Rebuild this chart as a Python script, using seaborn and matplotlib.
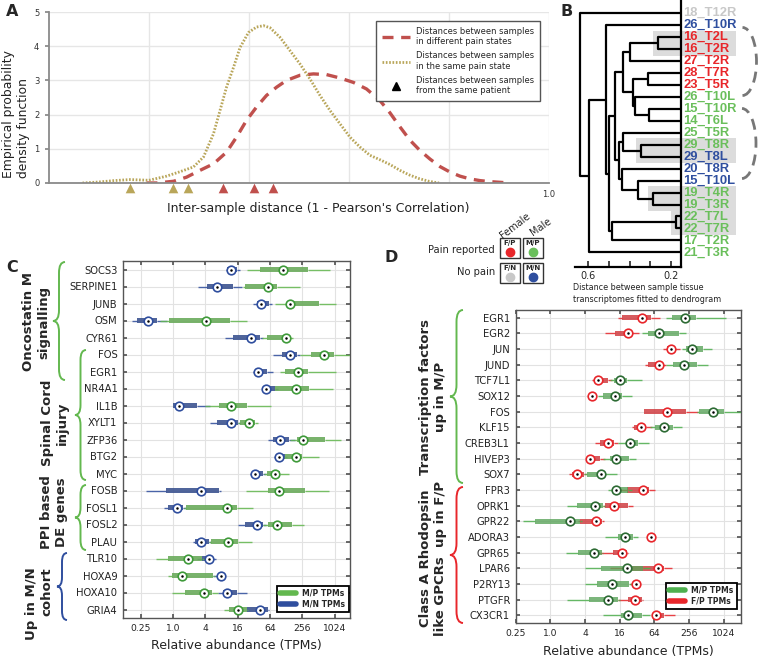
import numpy as np
import pandas as pd
import matplotlib
matplotlib.use("Agg")
import matplotlib.pyplot as plt
from matplotlib.patches import Rectangle, Arc, PathPatch
from matplotlib.path import Path
from matplotlib.lines import Line2D
from matplotlib.transforms import blended_transform_factory
import seaborn as sns

# ======================= DATA =======================
# Panel A: empirical density curves
same_x = [0.067, 0.10, 0.13, 0.162, 0.20, 0.235, 0.262, 0.289, 0.309, 0.329, 0.342, 0.355,
          0.369, 0.382, 0.399, 0.415, 0.429, 0.442, 0.462, 0.482, 0.502, 0.522, 0.542, 0.562,
          0.582, 0.602, 0.622, 0.642, 0.662, 0.682, 0.702, 0.72, 0.74, 0.76, 0.78]
same_y = [0.0, 0.03, 0.07, 0.1, 0.08, 0.2, 0.33, 0.47, 0.76, 1.44, 2.12, 2.8,
          3.38, 3.96, 4.4, 4.56, 4.6, 4.54, 4.26, 3.87, 3.48, 3.04, 2.56, 2.12,
          1.73, 1.34, 1.05, 0.81, 0.68, 0.54, 0.37, 0.24, 0.13, 0.05, 0.0]
diff_x = [0.195, 0.215, 0.249, 0.275, 0.302, 0.329, 0.355, 0.375, 0.395, 0.415, 0.435,
          0.455, 0.475, 0.502, 0.529, 0.555, 0.582, 0.609, 0.635, 0.662, 0.682, 0.702,
          0.722, 0.742, 0.762, 0.782, 0.802, 0.822, 0.842, 0.862, 0.882, 0.902, 0.922]
diff_y = [0.0, 0.0, 0.05, 0.17, 0.37, 0.56, 0.9, 1.34, 1.83, 2.22, 2.56,
          2.8, 3.0, 3.15, 3.19, 3.17, 3.07, 2.94, 2.75, 2.41, 2.05, 1.64,
          1.25, 0.95, 0.7, 0.48, 0.32, 0.2, 0.12, 0.07, 0.04, 0.02, 0.0]
patient_same = [0.162, 0.248, 0.278]
patient_diff = [0.348, 0.41, 0.448]

# Panel B: dendrogram
leaf_labels = ["18_T12R", "26_T10R", "16_T2L", "16_T2R", "27_T2R", "28_T7R", "23_T5R",
               "26_T10L", "15_T10R", "14_T6L", "25_T5R", "29_T8R", "29_T8L", "20_T8R",
               "15_T10L", "19_T4R", "19_T3R", "22_T7L", "22_T7R", "17_T2R", "21_T3R"]
leaf_groups = ["F/N", "M/N", "F/P", "F/P", "F/P", "F/P", "F/P",
               "M/P", "M/P", "M/P", "M/P", "M/P", "M/N", "M/N",
               "M/N", "M/P", "M/P", "M/P", "M/P", "M/P", "M/P"]
# (child a, child b, height); ids >= 21 refer to earlier merges
merges = [(2, 3, 0.261), (21, 4, 0.398), (5, 6, 0.309), (8, 9, 0.305), (7, 24, 0.373),
          (23, 25, 0.382), (22, 26, 0.43), (11, 12, 0.346), (10, 28, 0.43), (15, 16, 0.288),
          (14, 30, 0.358), (13, 31, 0.438), (29, 32, 0.45), (27, 33, 0.47), (17, 18, 0.176),
          (35, 19, 0.486), (34, 36, 0.497), (1, 37, 0.513), (38, 20, 0.594), (0, 39, 0.639)]
same_patient_pairs = [(2, 3, 0), (11, 12, 7), (15, 16, 9), (17, 18, 14)]  # leaves + merge index
dendro_ticks = [0.6, 0.5, 0.4, 0.3, 0.2]
dendro_ticklabels = ["0.6", "", "", "", "0.2"]

# Panel C (TPMs): M/N (blue) and M/P (green): whisker low, q1, median, q3, whisker high
c_genes = ["SOCS3", "SERPINE1", "JUNB", "OSM", "CYR61", "FOS", "EGR1", "NR4A1", "IL1B",
           "XYLT1", "ZFP36", "BTG2", "MYC", "FOSB", "FOSL1", "FOSL2", "PLAU", "TLR10",
           "HOXA9", "HOXA10", "GRIA4"]
c_mn_lo = [9.7, 2.96, 31, 0.17, 9.3, 74.6, 31, 45.6, 0.99, 4.9, 59.7, 76, 27.3, 0.32, 0.69, 16.5, 2.36, 2.76, 5.5, 6.9, 23.6]
c_mn_q1 = [10.2, 4.25, 36.3, 0.21, 13.3, 106, 33.8, 48.2, 1.01, 6.7, 72, 83, 30.6, 0.74, 0.8, 22, 2.57, 3.43, 6.9, 8.45, 24]
c_mn_md = [11.9, 6.5, 43.1, 0.34, 28.1, 152, 38.4, 54, 1.31, 12.1, 99, 96, 33.8, 3.33, 1.17, 36.3, 3.33, 4.69, 7.8, 10, 41.8]
c_mn_q3 = [15.6, 13.3, 62.4, 0.50, 41.8, 202, 55.7, 79.8, 2.76, 16.5, 147, 122, 48.2, 7.3, 1.52, 48.2, 4.75, 5.27, 8.45, 15.8, 59.7]
c_mn_hi = [17.7, 19.1, 70, 0.76, 47.6, 232, 72, 90.5, 4.9, 17.7, 188, 133, 54, 7.8, 1.75, 54, 5.1, 6.3, 8.7, 23.6, 62]
c_mp_lo = [23.6, 20.4, 79.8, 0.57, 45.6, 232, 99, 78, 3.95, 16.5, 152, 112, 49.6, 22.9, 1.6, 48, 4.75, 0.48, 0.82, 0.97, 8.9]
c_mp_q1 = [41.9, 22, 132, 0.85, 55.7, 373, 122, 80, 7.3, 17.7, 208, 122, 55.7, 58, 1.75, 59.7, 5.04, 0.8, 0.95, 1.67, 11.2]
c_mp_md = [114, 59.7, 152, 4.07, 126, 661, 211, 194, 12.2, 26.1, 261, 194, 78.6, 94.6, 10, 85.6, 10.5, 1.88, 1.49, 3.83, 16.5]
c_mp_q3 = [324, 85.6, 519, 11.5, 141, 1015, 333, 347, 23.6, 33.8, 680, 250, 99, 288, 15.8, 163, 16.5, 3.43, 5.5, 5.27, 23.6]
c_mp_hi = [843, 232, 1090, 23.6, 175, 1990, 1090, 973, 67, 38.9, 1352, 533, 147, 820, 30.6, 280, 29.3, 3.95, 6.06, 6.9, 25]

# Panel D (TPMs): F/P (red) and M/P (green)
d_genes = ["EGR1", "EGR2", "JUN", "JUND", "TCF7L1", "SOX12", "FOS", "KLF15", "CREB3L1",
           "HIVEP3", "SOX7", "FPR3", "OPRK1", "GPR22", "ADORA3", "GPR65", "LPAR6",
           "P2RY13", "PTGFR", "CX3CR1"]
d_fp_lo = [14.9, 8.9, 91, 43.8, 5.2, 4.7, 42, 26.4, 5.9, 4.5, 2.1, 16.1, 8.1, 3.0, 49.3, 6.45, 10.8, 24.1, 15.1, 57.9]
d_fp_q1 = [17.5, 13.2, 104, 50, 5.95, 4.9, 42.5, 28.2, 7.27, 4.7, 2.35, 21.1, 8.9, 3.27, 52.4, 12.4, 24, 27, 22.5, 65.2]
d_fp_md = [38.8, 22.5, 122, 76.5, 6.7, 5.2, 104, 36.9, 10.1, 4.88, 2.94, 40, 12.7, 6.2, 55.6, 17.3, 72.6, 30.6, 29.4, 67.9]
d_fp_q3 = [55, 24, 145, 82, 10.1, 5.7, 224, 45.5, 12.8, 7.3, 3.84, 52, 22.5, 7.96, 59, 21.1, 94.6, 33, 38.4, 93.5]
d_fp_hi = [79.7, 34.8, 177, 101, 11.7, 6.2, 367, 57.9, 14.9, 8.9, 4.1, 65, 27.4, 8.5, 65, 22.5, 127, 35.8, 40.9, 145]
d_mp_lo = [101, 38.3, 189, 101, 10.8, 6.7, 345, 53.4, 14.9, 8.2, 3.84, 10.1, 1.92, 0.34, 8.9, 1.87, 4.0, 4.0, 1.92, 8.3]
d_mp_q1 = [127, 49.9, 224, 135, 12.9, 8.3, 377, 65.2, 21.1, 10.8, 4.27, 12.4, 2.87, 0.54, 15.1, 3.06, 7.5, 6.4, 4.74, 16.6]
d_mp_md = [216, 75.6, 282, 208, 16.1, 13.2, 668, 94.6, 24.1, 13.6, 7.47, 13.8, 5.95, 2.2, 19.7, 5.72, 21.1, 11.9, 9.88, 22.5]
d_mp_q3 = [335, 172, 448, 345, 21.1, 17.3, 1024, 135, 33.5, 23.4, 8.3, 22.5, 8.1, 3.27, 27.4, 7.77, 40, 23.1, 15.1, 38.4]
d_mp_hi = [1130, 225, 626, 547, 38.4, 25.8, 2350, 189, 52, 30.5, 14.1, 26, 8.9, 3.5, 33.5, 8.2, 53, 27, 16, 53.4]

tpm_ticks = [0.25, 1, 4, 16, 64, 256, 1024]
tpm_ticklabels = ["0.25", "1.0", "4", "16", "64", "256", "1024"]

# ======================= STYLE =======================
sns.set_theme(style="ticks")
plt.rcParams["font.family"] = ["DejaVu Sans"]

RED_A = "#c0504d"
OLIVE = "#b9a65a"
GREEN_C = "#63b84f"
BLUE_C = "#2f4e9e"
GREEN_D = "#4fb04f"
RED_D = "#e8262b"
group_colors = {"F/P": "#e8262a", "M/P": "#6abf5b", "F/N": "#c8c8c8", "M/N": "#2f4f9f"}

W, H = 760, 658
fig = plt.figure(figsize=(7.6, 6.58), dpi=100)
fig.patch.set_facecolor("white")


def ax_px(x0, y0, x1, y1):
    return fig.add_axes([x0 / W, 1 - y1 / H, (x1 - x0) / W, (y1 - y0) / H])


def fx(x):
    return x / W


def fy(y):
    return 1 - y / H


def brace(x, y0, y1, w, color, lw=1.4):
    ym = (y0 + y1) / 2
    r = min(w * 0.9, (y1 - y0) / 6)
    xm = x + w / 2
    pts = [(x + w, y0), (xm, y0), (xm, y0 + r), (xm, ym - r), (xm, ym), (x, ym),
           (xm, ym), (xm, ym + r), (xm, y1 - r), (xm, y1), (x + w, y1)]
    codes = [Path.MOVETO, Path.CURVE3, Path.CURVE3, Path.LINETO, Path.CURVE3, Path.CURVE3,
             Path.CURVE3, Path.CURVE3, Path.LINETO, Path.CURVE3, Path.CURVE3]
    verts = [(fx(px), fy(py)) for px, py in pts]
    fig.add_artist(PathPatch(Path(verts, codes), fill=False, edgecolor=color, lw=lw,
                             transform=fig.transFigure))


# ======================= PANEL A =======================
axA = ax_px(49, 12, 549, 183)
sns.lineplot(x=diff_x, y=diff_y, ax=axA, color=RED_A, lw=2.4, linestyle=(0, (3.3, 2.3)))
sns.lineplot(x=same_x, y=same_y, ax=axA, color=OLIVE, lw=2.0, linestyle=(0, (0.6, 0.6)))
sns.scatterplot(x=patient_same, y=np.full(len(patient_same), -0.16), ax=axA, marker="^",
                s=48, color=OLIVE, linewidth=0, clip_on=False, zorder=5)
sns.scatterplot(x=patient_diff, y=np.full(len(patient_diff), -0.16), ax=axA, marker="^",
                s=48, color=RED_A, linewidth=0, clip_on=False, zorder=5)
axA.set_xlim(0, 1.0)
axA.set_ylim(0, 5)
axA.set_xticks([0.2, 0.4, 0.6, 0.8, 1.0])
axA.set_xticklabels(["", "", "", "", "1.0"])
axA.set_yticks([0, 1, 2, 3, 4, 5])
axA.tick_params(axis="x", length=0, labelsize=6, pad=5, labelcolor="#333")
axA.tick_params(axis="y", length=3, labelsize=6, pad=4, color="#888", labelcolor="#333")
axA.grid(True, color="#e6e6e6", lw=1)
axA.set_axisbelow(True)
for s in ["top", "right"]:
    axA.spines[s].set_visible(False)
for s in ["left", "bottom"]:
    axA.spines[s].set_color("#8a8a8a")
    axA.spines[s].set_linewidth(1.3)
axA.set_xlabel("")
axA.set_ylabel("")
hA = [Line2D([], [], color=RED_A, lw=2.4, linestyle=(0, (3.3, 2.3))),
      Line2D([], [], color=OLIVE, lw=2.0, linestyle=(0, (0.6, 0.6))),
      Line2D([], [], color="black", marker="^", linestyle="none", markersize=6)]
legA = axA.legend(hA, ["Distances between samples\nin different pain states",
                       "Distances between samples\nin the same pain state",
                       "Distances between samples\nfrom the same patient"],
                  loc="upper right", bbox_to_anchor=(fx(544), fy(17)),
                  bbox_transform=fig.transFigure, fontsize=6.0, frameon=True, fancybox=False,
                  edgecolor="#555", framealpha=1, handlelength=3.4, borderpad=0.7,
                  labelspacing=0.6, handletextpad=0.7)
legA.get_frame().set_linewidth(1.0)
fig.text(fx(16.5), fy(178), "Empirical probability\ndensity function", rotation=90,
         ha="center", va="bottom", multialignment="left", fontsize=8.9, color="#222")
fig.text(fx(167), fy(208), "Inter-sample distance (1 - Pearson's Correlation)",
         ha="left", va="center", fontsize=9.0, color="#222")

# ======================= PANEL B =======================
axB = ax_px(575, 0, 681, 266.7)
axB.patch.set_alpha(0)
n_leaf = len(leaf_labels)
leaf_base = 0.152
node_y = {i: float(i) for i in range(n_leaf)}
node_h = {i: leaf_base for i in range(n_leaf)}
for k, (a, b, h) in enumerate(merges):
    nid = n_leaf + k
    for c in (a, b):
        axB.plot([node_h[c], h], [node_y[c], node_y[c]], color="black", lw=1.6,
                 solid_capstyle="butt", clip_on=False)
    axB.plot([h, h], [node_y[a], node_y[b]], color="black", lw=1.6, clip_on=False)
    node_y[nid] = (node_y[a] + node_y[b]) / 2
    node_h[nid] = h
axB.set_xlim(0.663, leaf_base)
axB.set_ylim(n_leaf - 1 + 1.2, -1.11)
for (i, j, m) in same_patient_pairs:
    hgt = merges[m][2]
    axB.add_patch(Rectangle((hgt + 0.025, i - 0.55), (-0.115) - (hgt + 0.025), (j - i) + 1.1,
                            facecolor="#dcdcdc", edgecolor="none", zorder=-5, clip_on=False))
trB = blended_transform_factory(axB.transAxes, axB.transData)
for i, (lab, g) in enumerate(zip(leaf_labels, leaf_groups)):
    axB.text(1.02, i, lab, transform=trB, ha="left", va="center", fontsize=9.4,
             fontweight="bold", color=group_colors[g], family="Liberation Sans")
axB.set_xticks(dendro_ticks)
axB.set_xticklabels(dendro_ticklabels)
axB.set_yticks([])
axB.tick_params(axis="x", direction="in", length=4, width=1.2, labelsize=7, pad=3)
for s in ["top", "left"]:
    axB.spines[s].set_visible(False)
for s in ["bottom", "right"]:
    axB.spines[s].set_color("black")
    axB.spines[s].set_linewidth(1.6)
fig.text(fx(573), fy(293.7), "Distance between sample tissue\ntranscriptomes fitted to dendrogram",
         ha="left", va="center", fontsize=5.8, linespacing=1.45, color="#222")
for cx, cy, ry in [(742.5, 61.5, 34), (742, 143.5, 35)]:
    fig.add_artist(Arc((fx(cx), fy(cy)), 2 * 14 / W, 2 * ry / H, theta1=-90, theta2=90,
                       transform=fig.transFigure, color="#777", lw=2.0, linestyle=(0, (4, 2.5))))

# pain-state key
fig.text(fx(515), fy(226), "Female", rotation=38, ha="center", va="center", fontsize=7)
fig.text(fx(541), fy(227), "Male", rotation=35, ha="center", va="center", fontsize=7)
fig.text(fx(495), fy(250), "Pain reported", ha="right", va="center", fontsize=7.2)
fig.text(fx(495), fy(272), "No pain", ha="right", va="center", fontsize=7.2)
for g, bx, by in [("F/P", 500, 238), ("M/P", 523, 238), ("F/N", 500, 263), ("M/N", 523, 263)]:
    fig.add_artist(Rectangle((fx(bx), fy(by + 20)), 19.5 / W, 20 / H, facecolor="white",
                             edgecolor="#333", lw=1.0, transform=fig.transFigure))
    fig.text(fx(bx + 9.75), fy(by + 5), g, ha="center", va="center", fontsize=5,
             fontweight="bold")
    fig.add_artist(Line2D([fx(bx + 9.75)], [fy(by + 14)], marker="o", markersize=6,
                          color=group_colors[g], linestyle="none", transform=fig.transFigure))


# ======================= PANELS C & D =======================
def draw_group(ax, genes, lo, q1, md, q3, hi, color, edge, alpha=0.9, zo=2):
    df = pd.DataFrame({"gene": np.repeat(genes, 5),
                       "tpm": np.column_stack([lo, q1, md, q3, hi]).ravel()})
    sns.boxplot(data=df, x="tpm", y="gene", order=genes, orient="h", ax=ax, log_scale=2,
                whis=(0, 100), width=0.34, color=color, linecolor=color, linewidth=1.0,
                showfliers=False, showcaps=False,
                boxprops=dict(linewidth=0, alpha=alpha), medianprops=dict(linewidth=0),
                whiskerprops=dict(linewidth=1.0, alpha=0.85), zorder=zo)
    sns.stripplot(x=md, y=genes, order=genes, orient="h", ax=ax, log_scale=2, jitter=False,
                  color="white", edgecolor=edge, linewidth=1.2, size=6.2, zorder=zo + 6)
    sns.stripplot(x=md, y=genes, order=genes, orient="h", ax=ax, log_scale=2, jitter=False,
                  color="black", linewidth=0, size=1.8, zorder=zo + 7)


def style_tpm_axis(ax, n, xlim):
    ax.set_xlim(*xlim)
    ax.set_ylim(n - 0.5, -0.5)
    ax.set_xticks(tpm_ticks)
    ax.set_xticklabels(tpm_ticklabels)
    ax.xaxis.set_minor_locator(matplotlib.ticker.NullLocator())
    ax.tick_params(axis="x", direction="in", top=True, length=3, labelsize=6.6, pad=4,
                   color="#555", labelcolor="#222")
    ax.tick_params(axis="y", direction="in", right=True, length=3, labelsize=7.2, pad=4,
                   color="#555", labelcolor="#222")
    ax.grid(True, color="#e2e2e2", lw=0.8)
    ax.set_axisbelow(True)
    for s in ax.spines.values():
        s.set_visible(True)
        s.set_color("#555")
        s.set_linewidth(1.0)
    ax.set_ylabel("")
    ax.set_xlabel("Relative abundance (TPMs)", fontsize=9, labelpad=5, color="#222")


axC = ax_px(123, 261, 350, 618)
draw_group(axC, c_genes, c_mn_lo, c_mn_q1, c_mn_md, c_mn_q3, c_mn_hi, BLUE_C, BLUE_C, zo=2)
draw_group(axC, c_genes, c_mp_lo, c_mp_q1, c_mp_md, c_mp_q3, c_mp_hi, GREEN_C, "#3f9a3a", zo=3)
style_tpm_axis(axC, len(c_genes), (0.117, 1990))
legC = axC.legend([Line2D([], [], color=GREEN_C, lw=4), Line2D([], [], color=BLUE_C, lw=4)],
                  ["M/P TPMs", "M/N TPMs"], loc="upper left",
                  bbox_to_anchor=(fx(272.7), fy(581.7)), bbox_transform=fig.transFigure,
                  prop=dict(size=5.5, weight="bold"), frameon=True, fancybox=False,
                  edgecolor="black", framealpha=1, handlelength=2.2, borderpad=0.4,
                  labelspacing=0.25, handletextpad=0.8)
legC.get_frame().set_linewidth(1.3)

axD = ax_px(515.5, 310, 741, 623)
draw_group(axD, d_genes, d_fp_lo, d_fp_q1, d_fp_md, d_fp_q3, d_fp_hi, RED_D, RED_D, alpha=0.85, zo=2)
draw_group(axD, d_genes, d_mp_lo, d_mp_q1, d_mp_md, d_mp_q3, d_mp_hi, GREEN_D, "#2d6b34", alpha=0.8, zo=3)
style_tpm_axis(axD, len(d_genes), (0.25, 2020))
legD = axD.legend([Line2D([], [], color=GREEN_D, lw=4), Line2D([], [], color=RED_D, lw=4)],
                  ["M/P TPMs", "F/P TPMs"], loc="upper left",
                  bbox_to_anchor=(fx(661.7), fy(579)), bbox_transform=fig.transFigure,
                  prop=dict(size=5.5, weight="bold"), frameon=True, fancybox=False,
                  edgecolor="black", framealpha=1, handlelength=2.2, borderpad=0.4,
                  labelspacing=0.25, handletextpad=0.8)
legD.get_frame().set_linewidth(1.3)

# group braces and labels, panel C
brace(53, 262, 380, 12, GREEN_C)
brace(75, 350, 480, 11, GREEN_C)
brace(75, 485, 550, 11, GREEN_C)
brace(57, 553, 620, 10, BLUE_C)
fig.text(fx(36), fy(322), "Oncostatin M\nsignalling", rotation=90, ha="center", va="center",
         fontsize=9.5, fontweight="bold")
fig.text(fx(54.5), fy(423), "Spinal Cord\ninjury", rotation=90, ha="center", va="center",
         fontsize=9.5, fontweight="bold")
fig.text(fx(54.5), fy(512), "PPI based\nDE genes", rotation=90, ha="center", va="center",
         fontsize=9.5, fontweight="bold")
fig.text(fx(39.5), fy(567), "Up in M/N\ncohort", rotation=90, ha="center", va="top",
         multialignment="right", fontsize=9.5, fontweight="bold")

# group braces and labels, panel D
brace(450, 310, 483, 13, GREEN_C)
brace(450, 487, 623, 13, RED_D)
fig.text(fx(433), fy(397), "Transcription factors\nup in M/P", rotation=90, ha="center",
         va="center", fontsize=9.5, fontweight="bold")
fig.text(fx(433), fy(558), "Class A Rhodopsin\nlike GPCRs  up in F/P", rotation=90,
         ha="center", va="center", fontsize=9.5, fontweight="bold")

# panel letters
for lab, x, y in [("A", 6, 12), ("B", 560, 12), ("C", 6, 267), ("D", 385, 258)]:
    fig.text(fx(x), fy(y), lab, ha="left", va="center", fontsize=11.5, fontweight="bold")

fig.savefig("out.png", dpi=100, facecolor="white")
